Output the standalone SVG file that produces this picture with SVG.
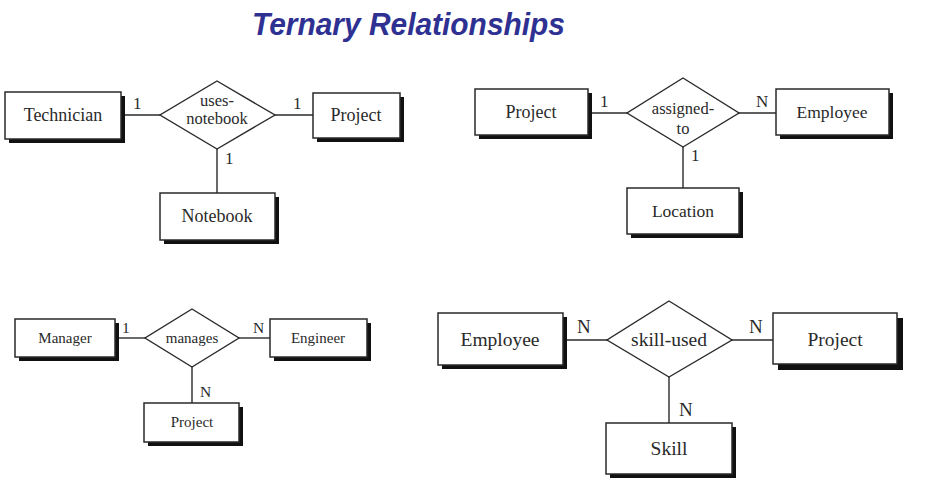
<svg xmlns="http://www.w3.org/2000/svg" width="938" height="489" viewBox="0 0 938 489">
<style>
.box{fill:#fff;stroke:#2a2a2a;stroke-width:1.5}
.sh{fill:#111}
.dia{fill:#fff;stroke:#2a2a2a;stroke-width:1.4}
.ln{stroke:#2a2a2a;stroke-width:1.4;fill:none}
text{font-family:"Liberation Serif","Times New Roman",serif;fill:#2a2a2a;text-anchor:middle}
.t1{font-size:18px}
.t2{font-size:16.5px}
.t3{font-size:15px}
.t4{font-size:19.5px}
.lab1{font-size:17px;text-anchor:start}
.lab3{font-size:15.5px;text-anchor:start}
.lab4{font-size:19px;text-anchor:start}
.title{font-family:"Liberation Sans",Arial,sans-serif;font-weight:bold;font-style:italic;font-size:32px;fill:#2e3192;text-anchor:start}
</style>
<rect width="938" height="489" fill="#fff"/>
<text class="title" x="252" y="35" textLength="313" lengthAdjust="spacingAndGlyphs">Ternary Relationships</text>

<g id="connectors">
  <line class="ln" x1="121" y1="115" x2="160" y2="115"/>
  <line class="ln" x1="275" y1="115" x2="313" y2="115"/>
  <line class="ln" x1="217" y1="149" x2="217" y2="193"/>
  <line class="ln" x1="588" y1="113" x2="627" y2="113"/>
  <line class="ln" x1="739" y1="113" x2="776" y2="113"/>
  <line class="ln" x1="683" y1="147" x2="683" y2="188"/>
  <line class="ln" x1="115" y1="338" x2="145" y2="338"/>
  <line class="ln" x1="239" y1="338" x2="270" y2="338"/>
  <line class="ln" x1="192" y1="367" x2="192" y2="403"/>
  <line class="ln" x1="563" y1="340" x2="607" y2="340"/>
  <line class="ln" x1="732" y1="340" x2="773" y2="340"/>
  <line class="ln" x1="669" y1="377" x2="669" y2="423"/>
  <text class="lab1" x="133" y="109">1</text>
  <text class="lab1" x="293" y="109">1</text>
  <text class="lab1" x="225" y="164">1</text>
  <text class="lab1" x="600" y="107">1</text>
  <text class="lab1" x="756" y="107">N</text>
  <text class="lab1" x="691" y="161">1</text>
  <text class="lab3" x="122" y="333">1</text>
  <text class="lab3" x="253" y="333">N</text>
  <text class="lab3" x="200" y="397">N</text>
  <text class="lab4" x="577" y="333">N</text>
  <text class="lab4" x="749" y="333">N</text>
  <text class="lab4" x="679" y="416">N</text>
</g>

<!-- Diagram 1 -->
<g id="technician">
  <rect class="sh" x="9" y="96" width="116" height="47"/>
  <rect class="box" x="5" y="92" width="116" height="47"/>
  <text class="t1" x="63" y="121">Technician</text>
</g>
<g id="uses-notebook">
  <polygon class="dia" points="217,81 275,115 217,149 160,115"/>
  <text class="t2" x="217" y="106">uses-</text>
  <text class="t2" x="217" y="124">notebook</text>
</g>
<g id="project1">
  <rect class="sh" x="317" y="97" width="87" height="45"/>
  <rect class="box" x="313" y="93" width="87" height="45"/>
  <text class="t1" x="356" y="121">Project</text>
</g>
<g id="notebook">
  <rect class="sh" x="164" y="197" width="115" height="47"/>
  <rect class="box" x="160" y="193" width="115" height="47"/>
  <text class="t1" x="217" y="222">Notebook</text>
</g>

<!-- Diagram 2 -->
<g id="project2">
  <rect class="sh" x="479" y="93" width="113" height="46"/>
  <rect class="box" x="475" y="89" width="113" height="46"/>
  <text class="t1" x="531" y="118">Project</text>
</g>
<g id="assigned-to">
  <polygon class="dia" points="683,78 739,113 683,147 627,113"/>
  <text class="t2" x="683" y="114">assigned-</text>
  <text class="t2" x="683" y="134">to</text>
</g>
<g id="employee2">
  <rect class="sh" x="780" y="93" width="113" height="46"/>
  <rect class="box" x="776" y="89" width="113" height="46"/>
  <text class="t1" x="832" y="118" style="font-size:17.5px">Employee</text>
</g>
<g id="location">
  <rect class="sh" x="631" y="192" width="112" height="46"/>
  <rect class="box" x="627" y="188" width="112" height="46"/>
  <text class="t1" x="683" y="217" style="font-size:17.5px">Location</text>
</g>

<!-- Diagram 3 -->
<g id="manager">
  <rect class="sh" x="19" y="323" width="100" height="38"/>
  <rect class="box" x="15" y="319" width="100" height="38"/>
  <text class="t3" x="65" y="343">Manager</text>
</g>
<g id="manages">
  <polygon class="dia" points="192,309 239,338 192,367 145,338"/>
  <text class="t3" x="192" y="343">manages</text>
</g>
<g id="engineer">
  <rect class="sh" x="274" y="323" width="97" height="38"/>
  <rect class="box" x="270" y="319" width="97" height="38"/>
  <text class="t3" x="318" y="343">Engineer</text>
</g>
<g id="project3">
  <rect class="sh" x="148" y="407" width="95" height="39"/>
  <rect class="box" x="144" y="403" width="95" height="39"/>
  <text class="t3" x="192" y="427">Project</text>
</g>

<!-- Diagram 4 -->
<g id="employee4">
  <rect class="sh" x="442" y="317" width="125" height="52"/>
  <rect class="box" x="438" y="313" width="125" height="52"/>
  <text class="t4" x="500" y="346">Employee</text>
</g>
<g id="skill-used">
  <polygon class="dia" points="669,301 732,340 669,377 607,340"/>
  <text class="t4" x="669" y="346">skill-used</text>
</g>
<g id="project4">
  <rect class="sh" x="778" y="318" width="125" height="52"/>
  <rect class="box" x="773" y="313" width="124" height="51"/>
  <text class="t4" x="835" y="346">Project</text>
</g>
<g id="skill">
  <rect class="sh" x="610" y="427" width="126" height="51"/>
  <rect class="box" x="606" y="423" width="126" height="51"/>
  <text class="t4" x="669" y="455">Skill</text>
</g>
</svg>
